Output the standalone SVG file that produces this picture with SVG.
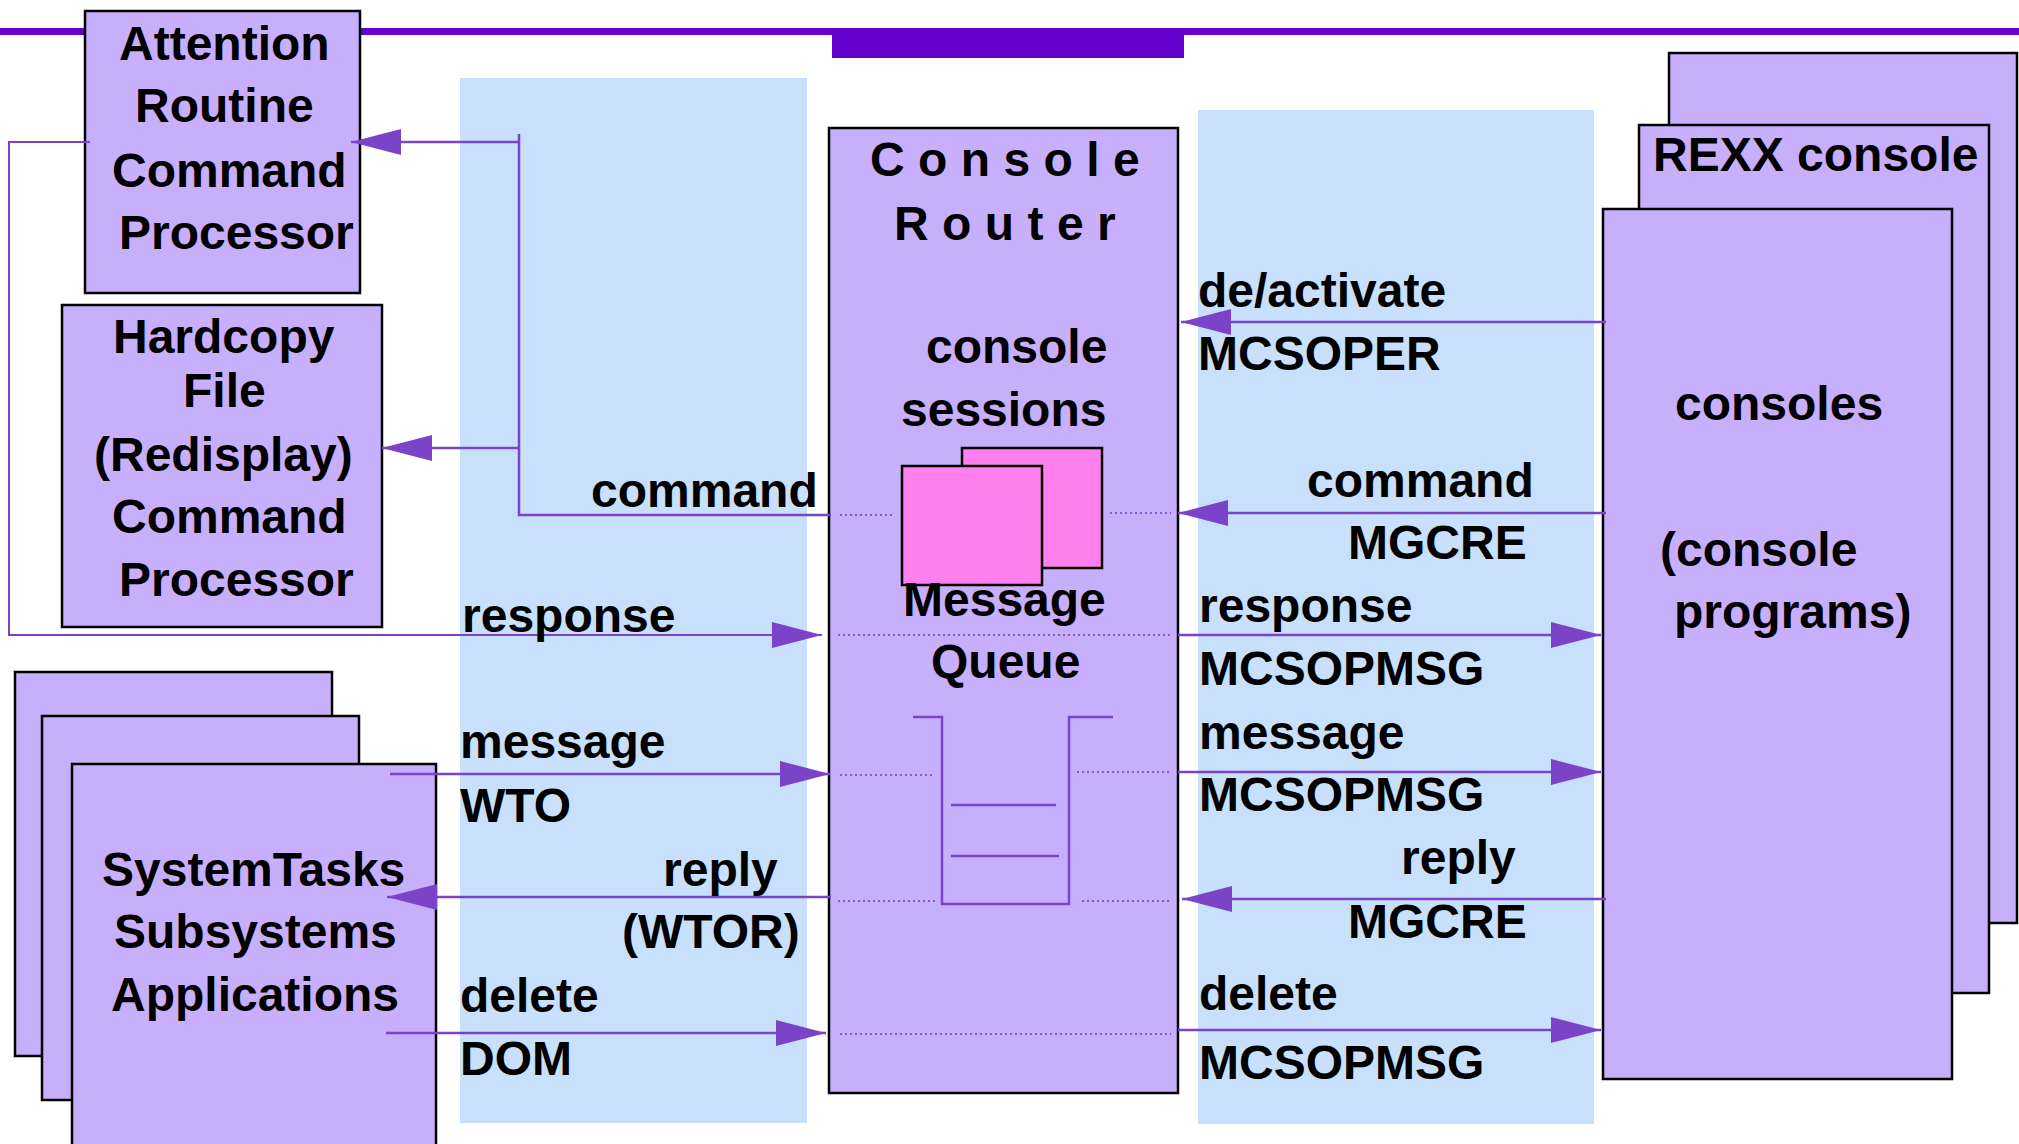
<svg xmlns="http://www.w3.org/2000/svg" width="2019" height="1144" viewBox="0 0 2019 1144">
  <defs>
    <style>
      .band { fill: #C8E0FC; }
      .box { fill: #C8AFFC; stroke: #000; stroke-width: 2.5; }
      .sess { fill: #FF80EE; stroke: #000; stroke-width: 2.5; }
      .t { font-family: "Liberation Sans", Arial, sans-serif; font-weight: bold; font-size: 48px; fill: #000; }
      .spaced { letter-spacing: 13.4px; }
      .wire { fill: none; stroke: #7B44C8; stroke-width: 2.5; }
      .thin { fill: none; stroke: #7B44C8; stroke-width: 2; }
      .dot { fill: none; stroke: #8A55D2; stroke-width: 2; stroke-dasharray: 2 3; }
      .q { fill: none; stroke: #7B44C8; stroke-width: 2.5; }
      .head { fill: #7B44C8; }
    </style>
    <marker id="arrow" viewBox="0 0 50 26" refX="50" refY="13" markerWidth="50" markerHeight="26" markerUnits="userSpaceOnUse" orient="auto">
      <path class="head" d="M0,0 L50,13 L0,26 Z"/>
    </marker>
  </defs>

  <!-- header rule and tab -->
  <rect x="0" y="28" width="2019" height="7" fill="#6600CC"/>
  <rect x="832" y="28" width="352" height="30" fill="#6600CC"/>

  <!-- interface bands -->
  <rect class="band" x="460" y="78" width="347" height="1045"/>
  <rect class="band" x="1198" y="110" width="396" height="1014"/>

  <!-- left-hand nodes -->
  <g id="attention-routine">
    <rect class="box" x="85" y="11" width="275" height="282"/>
    <text class="t" x="119" y="60">Attention</text>
    <text class="t" x="135" y="122">Routine</text>
    <text class="t" x="112" y="187">Command</text>
    <text class="t" x="119" y="249">Processor</text>
  </g>

  <g id="hardcopy-file">
    <rect class="box" x="62" y="305" width="320" height="322"/>
    <text class="t" x="113" y="353">Hardcopy</text>
    <text class="t" x="183" y="407">File</text>
    <text class="t" x="94" y="471">(Redisplay)</text>
    <text class="t" x="112" y="533">Command</text>
    <text class="t" x="119" y="596">Processor</text>
  </g>

  <g id="system-tasks">
    <rect class="box" x="15" y="672" width="317" height="384"/>
    <rect class="box" x="42" y="716" width="317" height="384"/>
    <rect class="box" x="72" y="764" width="364" height="400"/>
    <text class="t" x="102" y="886">SystemTasks</text>
    <text class="t" x="114" y="948">Subsystems</text>
    <text class="t" x="111" y="1011">Applications</text>
  </g>

  <!-- central router -->
  <g id="console-router">
    <rect class="box" x="829" y="128" width="349" height="965"/>
    <text class="t spaced" x="870" y="176">Console</text>
    <text class="t spaced" x="894" y="240">Router</text>
    <text class="t" x="926" y="363">console</text>
    <text class="t" x="901" y="426">sessions</text>
    <rect class="sess" x="962" y="448" width="140" height="120"/>
    <rect class="sess" x="902" y="466" width="140" height="119"/>
    <text class="t" x="903" y="616">Message</text>
    <text class="t" x="931" y="678">Queue</text>
    <!-- queue bucket -->
    <path class="q" d="M913,717 H942 V904 H1069 V717 H1113"/>
    <path class="q" d="M951,805 H1056 M951,856 H1059"/>
  </g>

  <!-- right-hand console stack -->
  <g id="consoles">
    <rect class="box" x="1669" y="53" width="348" height="870"/>
    <rect class="box" x="1639" y="125" width="350" height="868"/>
    <text class="t" x="1653" y="171">REXX console</text>
    <rect class="box" x="1603" y="209" width="349" height="870"/>
    <text class="t" x="1675" y="420">consoles</text>
    <text class="t" x="1660" y="566">(console</text>
    <text class="t" x="1674" y="628">programs)</text>
  </g>

  <!-- flows between the components -->
  <g id="connectors">
    <!-- command fan-out to the command processors -->
    <path class="wire" d="M831,515 H519 V134"/>
    <path class="wire" d="M519,142 H351" marker-end="url(#arrow)"/>
    <path class="wire" d="M519,448 H382" marker-end="url(#arrow)"/>
    <!-- response loop from the attention routine -->
    <path class="thin" d="M90,142 H9 V635 H822" marker-end="url(#arrow)"/>
    <!-- application side -->
    <path class="wire" d="M390,774 H830" marker-end="url(#arrow)"/>
    <path class="wire" d="M831,897 H387" marker-end="url(#arrow)"/>
    <path class="wire" d="M386,1033 H826" marker-end="url(#arrow)"/>
    <!-- console side -->
    <path class="wire" d="M1606,322 H1181" marker-end="url(#arrow)"/>
    <path class="wire" d="M1606,513 H1178" marker-end="url(#arrow)"/>
    <path class="wire" d="M1178,635 H1601" marker-end="url(#arrow)"/>
    <path class="wire" d="M1178,772 H1601" marker-end="url(#arrow)"/>
    <path class="wire" d="M1606,899 H1182" marker-end="url(#arrow)"/>
    <path class="wire" d="M1178,1030 H1601" marker-end="url(#arrow)"/>
    <!-- paths through the router -->
    <path class="dot" d="M840,515 H894 M1110,513 H1171"/>
    <path class="dot" d="M838,635 H1170"/>
    <path class="dot" d="M840,775 H935 M1077,772 H1171"/>
    <path class="dot" d="M838,901 H937 M1082,901 H1171"/>
    <path class="dot" d="M840,1034 H1171"/>
  </g>

  <!-- flow labels -->
  <g id="labels">
    <text class="t" x="591" y="507">command</text>
    <text class="t" x="462" y="632">response</text>
    <text class="t" x="460" y="758">message</text>
    <text class="t" x="460" y="822">WTO</text>
    <text class="t" x="663" y="886">reply</text>
    <text class="t" x="622" y="948">(WTOR)</text>
    <text class="t" x="460" y="1012">delete</text>
    <text class="t" x="460" y="1075">DOM</text>

    <text class="t" x="1198" y="307">de/activate</text>
    <text class="t" x="1198" y="370">MCSOPER</text>
    <text class="t" x="1307" y="497">command</text>
    <text class="t" x="1348" y="559">MGCRE</text>
    <text class="t" x="1199" y="622">response</text>
    <text class="t" x="1199" y="685">MCSOPMSG</text>
    <text class="t" x="1199" y="749">message</text>
    <text class="t" x="1199" y="811">MCSOPMSG</text>
    <text class="t" x="1401" y="874">reply</text>
    <text class="t" x="1348" y="938">MGCRE</text>
    <text class="t" x="1199" y="1010">delete</text>
    <text class="t" x="1199" y="1079">MCSOPMSG</text>
  </g>
</svg>
